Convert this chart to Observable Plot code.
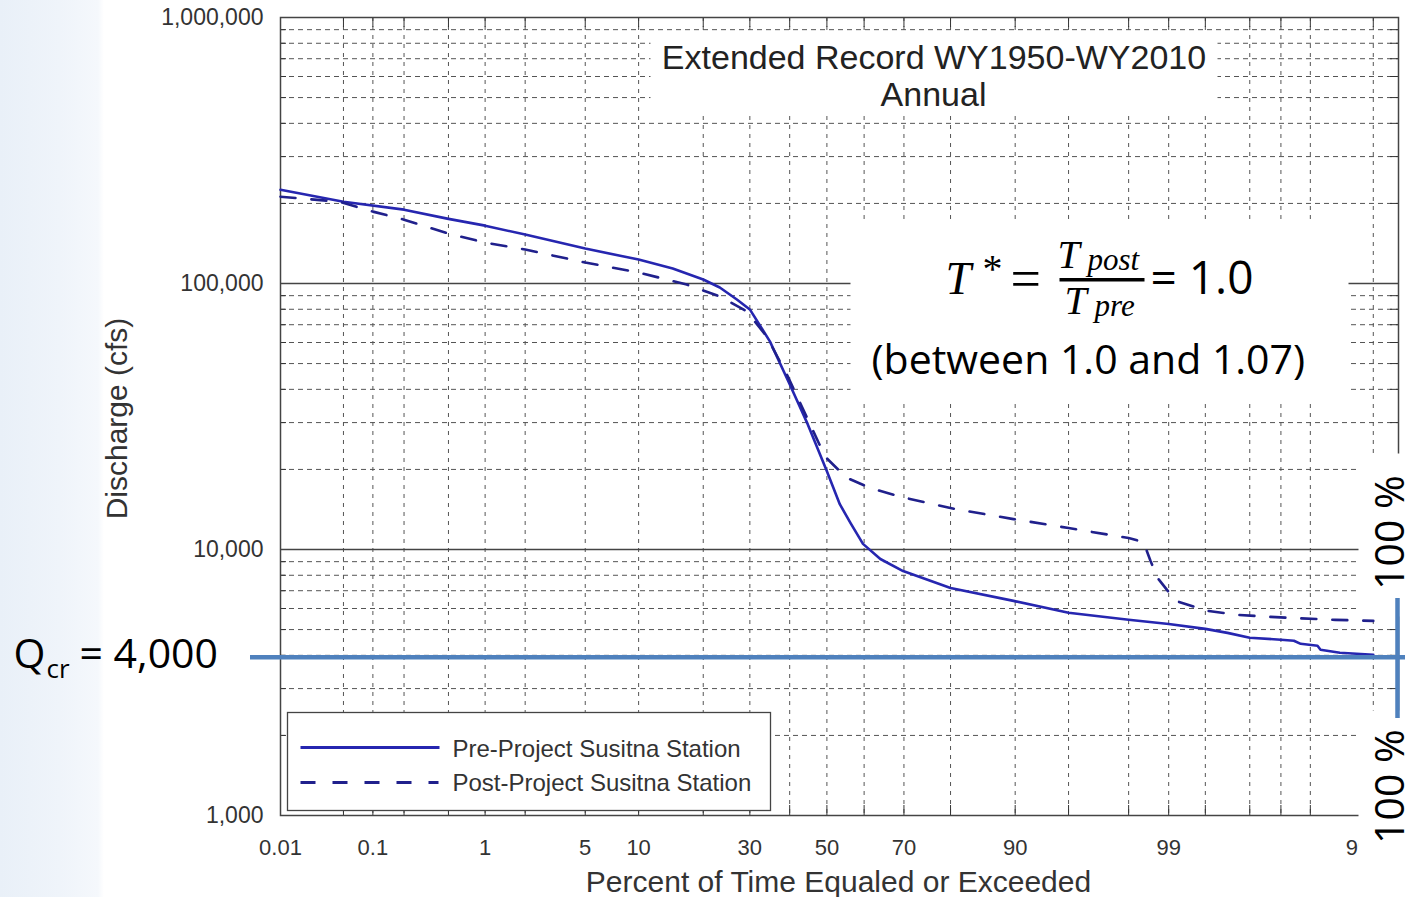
<!DOCTYPE html>
<html><head><meta charset="utf-8">
<script src="https://cdn.jsdelivr.net/npm/d3@7"></script>
<script src="https://cdn.jsdelivr.net/npm/@observablehq/plot@0.6"></script>
<style>
html,body{margin:0;padding:0;}
body{width:1414px;height:897px;overflow:hidden;background:linear-gradient(90deg,#e9f0f8 0px,#eff4fa 60px,#f5f8fc 98px,#ffffff 104px);}
#chart{position:relative;width:1414px;height:897px;}
</style></head>
<body><div id="chart"></div>
<script>
// ---------------- data ----------------
const seriesNames = ["Pre-Project Susitna Station", "Post-Project Susitna Station"];

const prePercent = [0.01, 0.05, 0.2, 0.5, 1, 2, 5, 10, 14.7, 20, 23.3, 27, 30, 34.9, 40, 44.8, 50, 53.5, 56.4, 59.7, 64.2, 69.8, 80, 89.8, 95, 98, 99, 99.5, 99.68, 99.8, 99.9, 99.926, 99.937, 99.958, 99.961, 99.976, 99.99];
const preDischarge = [225000, 203000, 189500, 175000, 165000, 152700, 135300, 123000, 113800, 103500, 96600, 87100, 79900, 60600, 41800, 29600, 19700, 14800, 12570, 10500, 9210, 8300, 7170, 6410, 5780, 5440, 5250, 5030, 4860, 4660, 4580, 4540, 4420, 4345, 4200, 4090, 4020];

const postPercent = [0.01, 0.045, 0.1, 0.2, 0.5, 1, 2, 5, 10, 17, 23.3, 29.3, 34.1, 39.5, 44.8, 48.6, 50, 53.5, 55.6, 61.7, 69.8, 80.9, 89.8, 95, 98, 98.44, 98.62, 98.78, 99.12, 99.52, 99.74, 99.874, 99.937, 99.973, 99.99];
const postDischarge = [212000, 203000, 186300, 173800, 154000, 142500, 134200, 119900, 110000, 99100, 89400, 78500, 63200, 44800, 30900, 23800, 22000, 19700, 18550, 17000, 15700, 14190, 13010, 12040, 11040, 10670, 9050, 7820, 6410, 5880, 5680, 5580, 5510, 5440, 5390];

const xDomainPercent = [0.01, 99.995];
const xGridPercent = [0.05, 0.1, 0.2, 0.5, 1, 2, 5, 10, 20, 30, 40, 50, 60, 70, 80, 90, 95, 98, 99, 99.5, 99.8, 99.9, 99.95, 99.99];
const xLabelPercent = [0.01, 0.1, 1, 5, 10, 30, 50, 70, 90, 99, 99.99];
const xLabelText = ["0.01", "0.1", "1", "5", "10", "30", "50", "70", "90", "99", "99.99"];

const yDomain = [1000, 1000000];
const yLabelValues = [1000, 10000, 100000, 1000000];
const yMajorGrid = [10000, 100000];
const yMinorGrid = [2000, 3000, 4000, 5000, 6000, 7000, 8000, 9000,
                    20000, 30000, 40000, 50000, 60000, 70000, 80000, 90000,
                    200000, 300000, 400000, 500000, 600000, 700000, 800000, 900000];

const criticalDischarge = 4000;      // Q_cr
const fullDurationPercent = 99.995;  // right edge of the probability axis ("100 %")

// ---------------- helpers ----------------
function probit(p) {
  const a = [-3.969683028665376e+01, 2.209460984245205e+02, -2.759285104469687e+02, 1.383577518672690e+02, -3.066479806614716e+01, 2.506628277459239e+00];
  const b = [-5.447609879822406e+01, 1.615858368580409e+02, -1.556989798598866e+02, 6.680131188771972e+01, -1.328068155288572e+01];
  const c = [-7.784894002430293e-03, -3.223964580411365e-01, -2.400758277161838e+00, -2.549732539343734e+00, 4.374664141464968e+00, 2.938163982698783e+00];
  const d = [7.784695709041462e-03, 3.224671290700398e-01, 2.445134137142996e+00, 3.754408661907416e+00];
  const plow = 0.02425, phigh = 1 - plow;
  let q, r;
  if (p < plow) {
    q = Math.sqrt(-2 * Math.log(p));
    return (((((c[0]*q+c[1])*q+c[2])*q+c[3])*q+c[4])*q+c[5]) / ((((d[0]*q+d[1])*q+d[2])*q+d[3])*q+1);
  }
  if (p <= phigh) {
    q = p - 0.5; r = q * q;
    return (((((a[0]*r+a[1])*r+a[2])*r+a[3])*r+a[4])*r+a[5])*q / (((((b[0]*r+b[1])*r+b[2])*r+b[3])*r+b[4])*r+1);
  }
  q = Math.sqrt(-2 * Math.log(1 - p));
  return -(((((c[0]*q+c[1])*q+c[2])*q+c[3])*q+c[4])*q+c[5]) / ((((d[0]*q+d[1])*q+d[2])*q+d[3])*q+1);
}
const px = p => probit(p / 100);

const preRows = prePercent.map((p, i) => ({p, q: preDischarge[i]}));
const postRows = postPercent.map((p, i) => ({p, q: postDischarge[i]}));
const zLabel = new Map(xLabelPercent.map((p, i) => [px(p), xLabelText[i]]));

// ---------------- layout ----------------
const W = 1414, H = 897, ML = 280, MR = 16, MT = 17, MB = 82;
const FX1 = ML, FX2 = W - MR, FY1 = MT, FY2 = H - MB;
const FW = FX2 - FX1, FH = FY2 - FY1;

const SANS = "'Liberation Sans', Arial, sans-serif";
const CAL = "'Open Sans', sans-serif";
const MATH = "'Liberation Serif', 'Times New Roman', serif";
const PRE_COLOR = "#2626b0", POST_COLOR = "#20208c", NOTE_BLUE = "#4f81bd";

function box(x1, y1, x2, y2, o = {}) {
  return Plot.frame({insetLeft: x1 - FX1, insetTop: y1 - FY1, insetRight: FX2 - x2, insetBottom: FY2 - y2,
                     fill: "white", stroke: "none", ...o});
}
function label(str, x, y, o = {}) {
  return Plot.text([str], {text: d => d, frameAnchor: "top-left", dx: x - FX1, dy: y - FY1,
                           textAnchor: "start", lineAnchor: "bottom", fill: "#000", ...o});
}

const legendDashes = [[300, 315], [332, 347], [364, 379], [396, 411], [428, 438]];

const chart = Plot.plot({
  width: W, height: H,
  marginLeft: ML, marginRight: MR, marginTop: MT, marginBottom: MB,
  style: {background: "transparent", color: "#333", fontFamily: SANS},
  x: {domain: xDomainPercent.map(px)},
  y: {type: "log", domain: yDomain},
  marks: [
    // grid
    Plot.ruleY(yMinorGrid, {stroke: "#555", strokeWidth: 1, strokeDasharray: "5,4"}),
    Plot.ruleX(xGridPercent, {x: px, stroke: "#555", strokeWidth: 1, strokeDasharray: "4,5"}),
    Plot.ruleY(yMajorGrid, {stroke: "#444", strokeWidth: 1.3}),
    // inward ticks
    Plot.tickX(xGridPercent, {x: px, stroke: "#333", insetTop: FH - 10}),
    Plot.tickX(xGridPercent, {x: px, stroke: "#333", insetBottom: FH - 10}),
    Plot.tickY(yMinorGrid, {y: d => d, stroke: "#333", insetRight: FW - 6}),
    Plot.tickY(yMinorGrid, {y: d => d, stroke: "#333", insetLeft: FW - 8}),
    Plot.frame({stroke: "#444", strokeWidth: 1.5}),
    // axes
    Plot.axisX({ticks: xLabelPercent.map(px), tickFormat: z => zLabel.get(z), tickSize: 0, tickPadding: 24,
                fontSize: 22, fontFamily: SANS, fill: "#333", label: null}),
    Plot.axisY({ticks: yLabelValues, tickFormat: ",", tickSize: 0, tickPadding: 17,
                fontSize: 23, fontFamily: SANS, fill: "#333", label: null}),
    // text-box backgrounds of the slide annotations
    box(650, 31, 1217, 113),
    box(850, 220, 1348, 400),
    box(1358, 453, 1414, 616),
    box(1358, 710, 1414, 897),
    // flow duration curves
    Plot.line(preRows, {x: d => px(d.p), y: "q", stroke: PRE_COLOR, strokeWidth: 2.6}),
    Plot.line(postRows, {x: d => px(d.p), y: "q", stroke: POST_COLOR, strokeWidth: 2.6, strokeDasharray: "15,16"}),
    // legend
    box(287, 712, 770, 810, {stroke: "#444", strokeWidth: 1.3}),
    box(300, 745.5, 439, 748.5, {fill: PRE_COLOR}),
    ...legendDashes.map(([a, b]) => box(a, 780.5, b, 783.5, {fill: POST_COLOR})),
    label(seriesNames[0], 452, 756, {fontFamily: SANS, fontSize: 24, fill: "#333"}),
    label(seriesNames[1], 452, 790, {fontFamily: SANS, fontSize: 24, fill: "#333"}),
    // Q_cr line and 100 % marker
    Plot.ruleY([criticalDischarge], {stroke: NOTE_BLUE, strokeWidth: 4.5, insetLeft: -30, insetRight: -7, dy: 2}),
    Plot.ruleX([fullDurationPercent], {x: px, stroke: NOTE_BLUE, strokeWidth: 4.5, insetTop: 598 - FY1, insetBottom: FY2 - 718, dx: -1}),
    // titles
    label("Extended Record WY1950-WY2010", 933.5, 68, {textAnchor: "middle", fontFamily: SANS, fontSize: 34, fill: "#222"}),
    label("Annual", 933, 105, {textAnchor: "middle", fontFamily: SANS, fontSize: 34, fill: "#222"}),
    label("Discharge (cfs)", 126, 418, {textAnchor: "middle", rotate: -90, fontFamily: SANS, fontSize: 30, fill: "#333"}),
    label("Percent of Time Equaled or Exceeded", 838, 891, {textAnchor: "middle", fontFamily: SANS, fontSize: 30, fill: "#333"}),
    // T* formula
    label("T", 945, 293, {fontFamily: MATH, fontStyle: "italic", fontSize: 46}),
    label("*", 982, 281, {fontFamily: MATH, fontSize: 40}),
    label("=", 1010, 296, {fontFamily: MATH, fontSize: 54}),
    label("T", 1057, 267, {fontFamily: MATH, fontStyle: "italic", fontSize: 40}),
    label("post", 1087, 269, {fontFamily: MATH, fontStyle: "italic", fontSize: 31}),
    box(1059, 277.5, 1144, 281, {fill: "#000"}),
    label("T", 1064, 313, {fontFamily: MATH, fontStyle: "italic", fontSize: 40}),
    label("pre", 1094, 315, {fontFamily: MATH, fontStyle: "italic", fontSize: 31}),
    label("= 1.0", 1150, 293, {fontFamily: CAL, fontSize: 46}),
    label("(between 1.0 and 1.07)", 871, 373, {fontFamily: CAL, fontSize: 41}),
    // Q_cr label
    label("Q", 13, 667, {fontFamily: CAL, fontSize: 41}),
    label("cr", 46, 677, {fontFamily: CAL, fontSize: 26}),
    label("= 4,000", 79, 667, {fontFamily: CAL, fontSize: 41}),
    // 100 % labels
    label("100 %", 1403, 532, {textAnchor: "middle", rotate: -90, fontFamily: CAL, fontSize: 41}),
    label("100 %", 1403, 786, {textAnchor: "middle", rotate: -90, fontFamily: CAL, fontSize: 41})
  ]
});
document.getElementById("chart").appendChild(chart);
</script>
</body></html>
